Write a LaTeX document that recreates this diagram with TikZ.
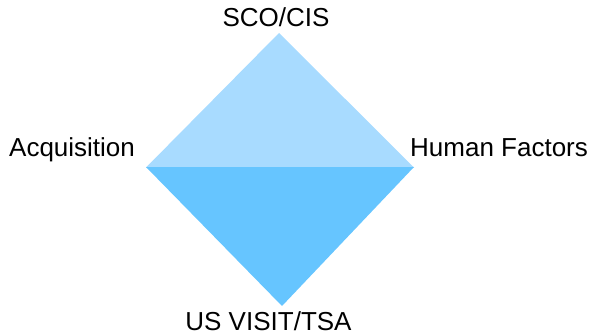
\documentclass[tikz,border=0pt]{standalone}
\usepackage{fontspec}
\setmainfont{Liberation Sans}
\definecolor{toptri}{HTML}{A8DBFF}
\definecolor{bottri}{HTML}{66C5FF}
\begin{document}
\begin{tikzpicture}[x=1pt,y=-1pt,
  lbl/.style={inner sep=0pt,font=\fontsize{26}{30}\selectfont}]
\useasboundingbox (0,0) rectangle (594,334);
\coordinate (T) at (279,33);
\coordinate (L) at (146,167.5);
\coordinate (R) at (414,167.5);
\coordinate (B) at (282,306);
\fill[toptri] (L) -- (T) -- (R) -- cycle;
\fill[bottri] ([yshift=0.5pt]L) -- ([yshift=0.5pt]R) -- (B) -- cycle;
\node[lbl,anchor=base] (sco) at (276,27) {SCO/CIS};
\node[lbl,anchor=base west] (acq) at (9,156) {Acquisition};
\node[lbl,anchor=base west] (hf) at (410,156) {Human Factors};
\node[lbl,anchor=base] (us) at (268.5,330) {US VISIT/TSA};
\end{tikzpicture}
\end{document}
